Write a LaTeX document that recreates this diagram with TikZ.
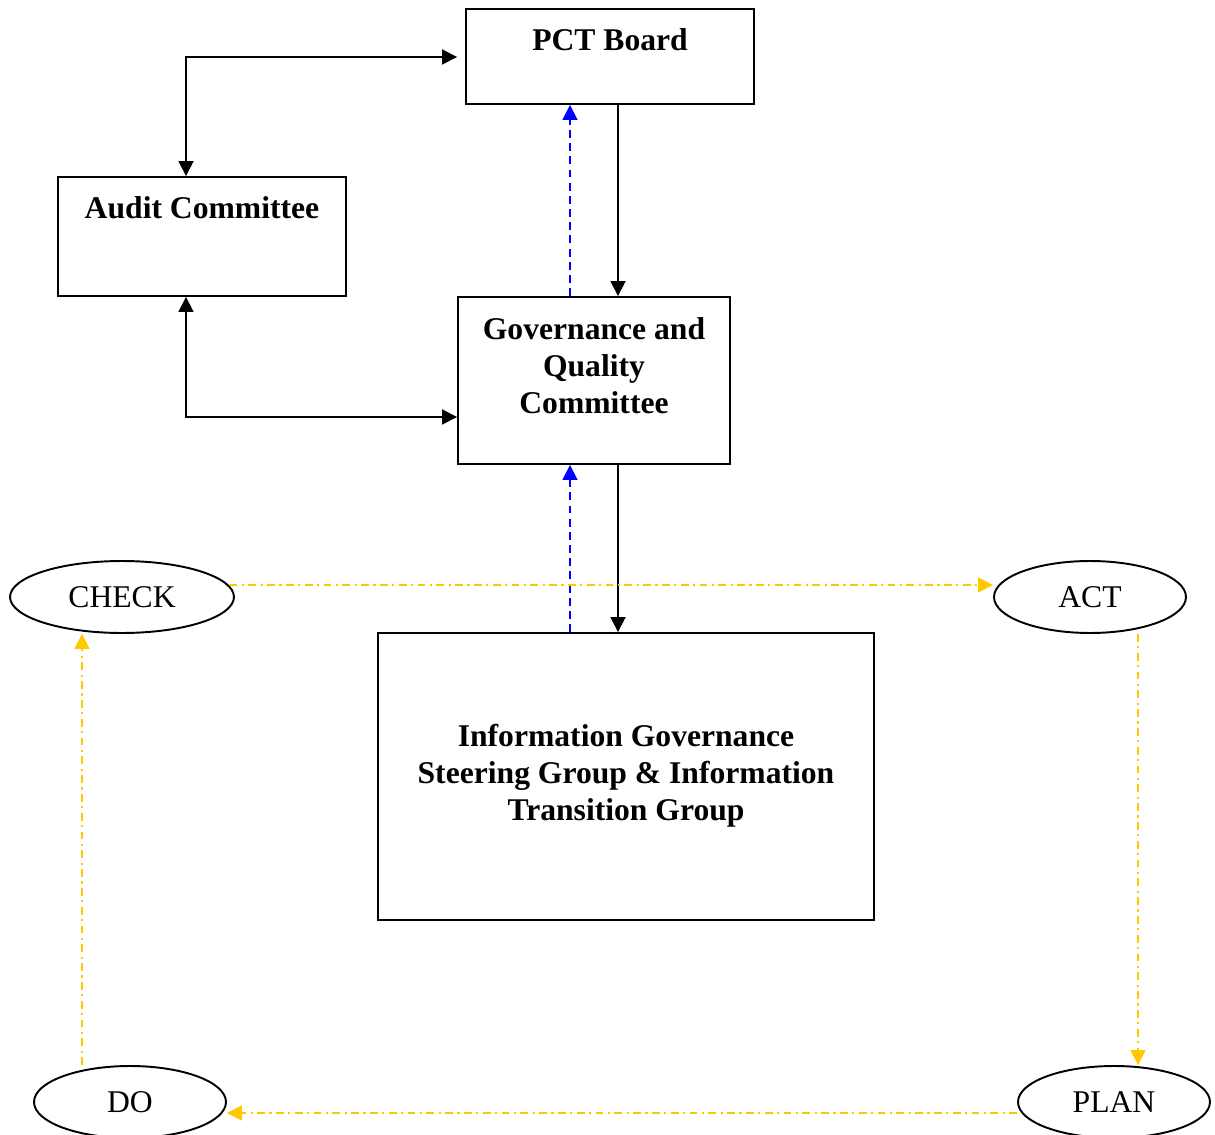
\documentclass[tikz,border=0pt]{standalone}
\usepackage{fontspec}
\setmainfont{Liberation Serif}
\usetikzlibrary{arrows.meta,calc,shapes.geometric}
\definecolor{cyc}{HTML}{FFC800}
\begin{document}
\begin{tikzpicture}[x=0.02cm,y=-0.02cm,
  tip/.tip={Triangle[length=8.5pt,width=8.5pt]},
  box/.style={draw,line width=1.1pt,rectangle,inner sep=0pt},
  oval/.style={draw,line width=1.1pt,ellipse,inner sep=0pt,minimum height=1.44cm,font=\fontsize{18}{21}\selectfont},
  lbl/.style={font=\bfseries\fontsize{18}{21}\selectfont,align=center,inner sep=0pt},
  arr/.style={line width=1pt,-tip},
  darr/.style={line width=1pt,tip-tip},
  barr/.style={line width=1pt,blue,dash pattern=on 4.5pt off 3pt,-tip},
  yarr/.style={line width=0.9pt,cyc,dash pattern=on 4.5pt off 2.5pt on 1.2pt off 2.5pt,-tip}]
\useasboundingbox (0,0) rectangle (1215,1135);

% boxes
\node[box,minimum width=5.76cm,minimum height=1.90cm] (pct) at (610,56.5) {};
\node[lbl] (pcttxt) at (610,40) {PCT Board};
\node[box,minimum width=5.76cm,minimum height=2.38cm] (audit) at (202,236.5) {};
\node[lbl] (audittxt) at (202,208) {Audit Committee};
\node[box,minimum width=5.44cm,minimum height=3.34cm] (gqc) at (594,380.5) {};
\node[lbl] (gqctxt) at (594,366) {Governance and\\Quality\\Committee};
\node[box,minimum width=9.92cm,minimum height=5.74cm] (igsg) at (626,776.5) {};
\node[lbl] (igsgtxt) at (626,776) {Information Governance\\Steering Group \& Information\\Transition Group};

% ellipses
\node[oval,minimum width=4.48cm] (check) at (122,597) {CHECK};
\node[oval,minimum width=3.84cm] (act) at (1090,597) {ACT};
\node[oval,minimum width=3.84cm] (do) at (130,1102) {DO};
\node[oval,minimum width=3.84cm] (plan) at (1114,1102) {PLAN};

% helper coordinates
\coordinate (xa) at (618,0);
\coordinate (xb) at (570,0);
\coordinate (xl) at (186,0);
\coordinate (xc) at (1138,0);
\coordinate (xd) at (82,0);
\coordinate (ya) at (0,585);
\coordinate (yd) at (0,1113);
\coordinate (ytop) at (0,57);
\coordinate (ymid) at (0,417);

% black connectors
\draw[darr] (audit.north -| xl) |- ($(pct.west |- ytop)+(-8,0)$);
\draw[darr] (audit.south -| xl) |- (gqc.west |- ymid);
\draw[arr] (pct.south -| xa) -- (gqc.north -| xa);
\draw[arr] (gqc.south -| xa) -- (igsg.north -| xa);

% blue dashed
\draw[barr] (gqc.north -| xb) -- (pct.south -| xb);
\draw[barr] (igsg.north -| xb) -- (gqc.south -| xb);

% PDCA cycle
\draw[yarr] (check.6.5 |- ya) -- (act.west |- ya);
\draw[yarr] (act.south -| xc) -- (plan.north -| xc);
\draw[yarr] (plan.west |- yd) -- (do.east |- yd);
\draw[yarr] (do.north -| xd) -- (check.south -| xd);
\end{tikzpicture}
\end{document}
